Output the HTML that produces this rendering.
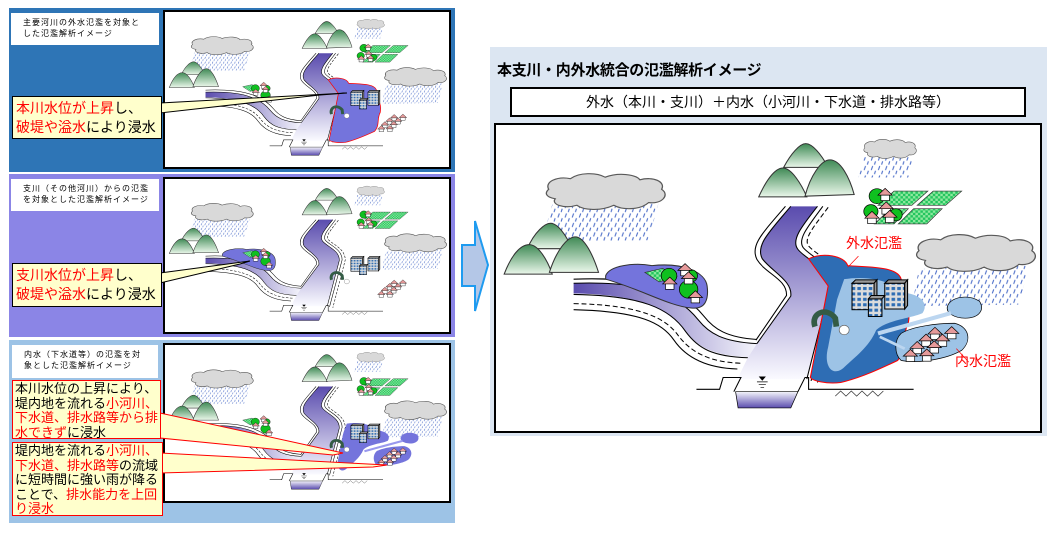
<!DOCTYPE html>
<html><head><meta charset="utf-8">
<style>
body{margin:0;width:1054px;height:533px;background:#fff;position:relative;overflow:hidden;font-family:"Liberation Sans","Noto Sans CJK JP",sans-serif;}
.abs{position:absolute;box-sizing:border-box;}
.ttl{background:#fff;font-size:8px;line-height:11px;padding:4px 0 0 12px;letter-spacing:1px;color:#000;}
.ill{position:absolute;box-sizing:border-box;border:2px solid #000;background:#fff;}
.ill svg{position:absolute;left:0;top:0;width:100%;height:100%;}
.co{background:#ffffcc;font-size:14px;line-height:19px;padding:2px 0 0 3px;color:#000;white-space:nowrap;}
.r{color:#f00;}
.co3{background:#ffffcc;border:1.5px solid #f00;font-size:13px;line-height:14.5px;padding:1px 0 0 2px;white-space:nowrap;}
</style></head><body>

<svg width="0" height="0" style="position:absolute">
<defs>
 <linearGradient id="mt" x1="0" y1="0" x2="0" y2="1"><stop offset="0" stop-color="#3f8a55"/><stop offset="1" stop-color="#eaf7ea"/></linearGradient>
 <linearGradient id="rv" x1="0" y1="0" x2="0" y2="1"><stop offset="0" stop-color="#5a4cae"/><stop offset="1" stop-color="#fafaff"/></linearGradient>
 <linearGradient id="tr" x1="0" y1="0" x2="1" y2="0"><stop offset="0" stop-color="#5a4cae"/><stop offset="1" stop-color="#f4f4fb"/></linearGradient>
 <linearGradient id="ch" x1="0" y1="0" x2="0" y2="1"><stop offset="0" stop-color="#f4f4fb"/><stop offset="1" stop-color="#5a4cae"/></linearGradient>
 <pattern id="rain" width="20" height="28" patternUnits="userSpaceOnUse"><line x1="10" y1="2" x2="6" y2="14" stroke="#4a6cc8" stroke-width="3"/><line x1="18" y1="16" x2="15" y2="26" stroke="#4a6cc8" stroke-width="3"/></pattern>
 <pattern id="chk" width="14" height="14" patternUnits="userSpaceOnUse"><rect width="14" height="14" fill="#22c55e"/><rect width="7" height="7" fill="#8ee89e"/><rect x="7" y="7" width="7" height="7" fill="#8ee89e"/></pattern>
 <pattern id="win" width="16" height="16" patternUnits="userSpaceOnUse"><rect width="16" height="16" fill="#ddd"/><rect x="3" y="3" width="10" height="9" fill="#2e6db4"/></pattern>
 <g id="house"><rect x="-12" y="0" width="24" height="18" fill="#fff" stroke="#000" stroke-width="2"/><polygon points="-20,2 0,-18 20,2" fill="#e69a9a" stroke="#000" stroke-width="2"/></g>
 <g id="cloud"><path d="M0,40 C-10,20 20,5 50,12 C70,-5 110,-5 130,8 C160,-5 200,0 210,15 C240,5 270,20 260,40 C280,55 260,80 230,75 C210,95 170,95 150,82 C120,98 80,95 65,82 C35,92 5,80 15,65 C-10,60 -8,48 0,40 Z" fill="#d9d9d9" stroke="#595959" stroke-width="3"/></g>
 <g id="base">
  <!-- rain -->
  <polygon points="170,480 470,470 440,585 140,590" fill="url(#rain)"/>
  <polygon points="1045,340 1185,340 1170,400 1030,400" fill="url(#rain)"/>
  <polygon points="1200,670 1510,660 1480,775 1180,780" fill="url(#rain)"/>
  <use href="#cloud" transform="translate(160,390) scale(1.22,1.12)"/>
  <use href="#cloud" transform="translate(1048,288) scale(0.54,0.6)"/>
  <use href="#cloud" transform="translate(1200,570) scale(1.22,1.15)"/>
  <!-- mountains -->
  <g fill="url(#mt)" stroke="#333" stroke-width="3">
   <path d="M100,610 C120,560 150,535 165,535 C185,535 210,570 225,610 Z"/>
   <path d="M35,685 C55,630 80,598 105,598 C130,598 155,640 170,685 Z"/>
   <path d="M162,680 C180,620 210,575 235,575 C260,575 285,630 300,680 Z"/>
   <path d="M820,370 C840,330 865,300 882,300 C900,300 925,330 945,370 Z"/>
   <path d="M750,457 C770,410 795,372 818,372 C842,372 870,420 885,457 Z"/>
   <path d="M880,455 C895,395 925,348 950,348 C980,348 1005,400 1018,450 Z"/>
  </g>
  <!-- fields -->
  <g fill="url(#chk)" stroke="#333" stroke-width="2">
   <polygon points="1130,440 1225,440 1180,482 1085,482"/>
   <polygon points="1240,440 1320,440 1275,482 1195,482"/>
   <polygon points="1120,492 1170,492 1130,537 1075,537"/>
   <polygon points="1185,492 1265,492 1222,537 1142,537"/>
  </g>
  <g fill="#0fc01f" stroke="#000" stroke-width="2"><circle cx="1082" cy="455" r="22"/><circle cx="1065" cy="500" r="20"/><circle cx="1135" cy="510" r="18"/></g>
  <use href="#house" x="1105" y="450"/><use href="#house" x="1108" y="490"/><use href="#house" x="1068" y="518"/><use href="#house" x="1118" y="515"/>
  <!-- tributary -->
  <path d="M230,712 C420,705 520,740 580,820 C610,860 650,885 745,890 L720,930 C620,925 580,900 550,860 C500,790 420,745 230,742 Z" fill="url(#tr)"/>
  <g fill="none" stroke="#000" stroke-width="3">
   <path d="M230,700 C420,692 530,725 595,808 C625,848 660,872 745,878"/>
   <path d="M230,712 C420,705 520,740 580,820 C610,860 650,885 745,890"/>
   <path d="M230,745 C420,748 500,785 545,855 C580,905 620,928 720,932"/>
   <path d="M230,772 C420,776 490,815 525,868 C560,915 610,945 700,948" stroke-dasharray="14,8"/>
   <path d="M230,790 C420,795 480,830 512,880 C545,930 600,962 690,965"/>
  </g>
  <!-- main river -->
  <path d="M840,485 L915,485 C870,545 840,585 860,612 C885,645 950,665 950,725 L885,995 L690,995 L720,930 L745,890 L840,750 C845,705 790,680 760,640 C740,600 780,560 840,485 Z" fill="url(#rv)"/>
  <g fill="none" stroke="#000" stroke-width="3">
   <path d="M825,485 C760,565 725,600 745,642 C770,685 830,700 828,748 L742,880"/>
   <path d="M840,485 C780,560 740,600 760,640 C790,680 845,705 840,750 L745,890"/>
   <path d="M915,485 C870,545 840,585 860,612 C885,645 950,665 950,725 L885,995"/>
   <path d="M930,485 C888,545 858,582 875,607 C900,638 965,660 965,722 L897,1000"/>
   <path d="M945,488 C905,545 875,580 890,602 C915,632 980,655 982,722 L915,1005" stroke-dasharray="14,8"/>
   <path d="M575,1025 L640,1025 L650,990 L700,990 L680,1032"/>
   <path d="M860,1032 L880,990 L890,990 L890,1025 L1185,1025"/>
  </g>
  <path d="M685,1032 L860,1032 L840,1080 L692,1080 Z" fill="url(#ch)" stroke="#000" stroke-width="2"/>
  <path d="M752,988 L768,988 L760,998 Z M745,1003 L775,1003 M750,1011 L770,1011 M755,1019 L765,1019" fill="#000" stroke="#000" stroke-width="2"/>
  <path d="M965,1045 l15,-15 l15,15 l15,-15 l15,15 l15,-15 l15,15 l15,-15 l15,15 l15,-15" fill="none" stroke="#333" stroke-width="2"/>
 </g>
 <g id="top">
  <!-- left houses -->
  <polygon points="430,680 480,668 520,692 470,708" fill="url(#chk)" stroke="#333" stroke-width="2"/>
  <g fill="#0fc01f" stroke="#000" stroke-width="2"><circle cx="498" cy="690" r="22"/><circle cx="560" cy="690" r="18"/><circle cx="553" cy="730" r="26"/></g>
  <use href="#house" x="543" y="672"/><use href="#house" x="553" y="696"/><use href="#house" x="500" y="712"/><use href="#house" x="572" y="752"/>
  <!-- buildings -->
  <g stroke="#000" stroke-width="3">
   <rect x="1012" y="712" width="62" height="78" fill="url(#win)"/><polygon points="1012,712 1022,702 1082,702 1074,712" fill="#999"/><polygon points="1074,712 1082,702 1082,780 1074,790" fill="#999"/>
   <rect x="1104" y="712" width="56" height="76" fill="url(#win)"/><polygon points="1104,712 1114,702 1168,702 1160,712" fill="#999"/><polygon points="1160,712 1168,702 1168,778 1160,788" fill="#999"/>
   <rect x="1058" y="758" width="38" height="52" fill="url(#win)"/><polygon points="1058,758 1066,748 1104,748 1096,758" fill="#999"/>
  </g>
  <!-- pump -->
  <path d="M908,840 C895,800 940,780 965,815 L968,840" fill="none" stroke="#335b45" stroke-width="16"/>
  <circle cx="990" cy="850" r="14" fill="#fff" stroke="#666" stroke-width="2"/>
 </g>
 <g id="rhouses">
  <use href="#house" x="1245" y="860"/><use href="#house" x="1292" y="858"/><use href="#house" x="1220" y="880"/><use href="#house" x="1266" y="880"/>
  <use href="#house" x="1195" y="902"/><use href="#house" x="1243" y="900"/><use href="#house" x="1176" y="925"/><use href="#house" x="1222" y="924"/>
 </g>
</defs>
</svg>

<!-- panel 1 -->
<div class="abs" style="left:9px;top:8px;width:446px;height:164px;background:#2e75b6"></div>
<div class="abs ttl" style="left:11px;top:13px;width:148px;height:32px">主要河川の外水氾濫を対象と<br>した氾濫解析イメージ</div>
<div class="ill" style="left:163px;top:10px;width:288px;height:159px">
<svg viewBox="12 245 1528 903" preserveAspectRatio="none">
 <use href="#base"/>
 <path d="M890,640 C930,620 990,630 1000,660 C1050,665 1140,660 1150,700 C1150,760 1180,770 1170,830 C1150,870 1170,900 1140,940 C1100,960 1040,990 980,1005 C940,1010 900,1000 895,990 L945,720 Z" fill="#7474dc" stroke="#f00" stroke-width="4"/>
 <use href="#top"/><use href="#rhouses"/>
</svg></div>
<svg class="abs" style="left:0;top:0" width="460" height="180"><polygon points="160,103 347,93 320,95 160,113" fill="#ffffcc" stroke="#000" stroke-width="1"/></svg>
<div class="abs co" style="left:12px;top:96px;width:150px;height:43px;border:1.5px solid #000"><span class="r">本川水位が上昇</span>し、<br><span class="r">破堤や溢水</span>により浸水</div>

<!-- panel 2 -->
<div class="abs" style="left:9px;top:174px;width:446px;height:163px;background:#8b85e6"></div>
<div class="abs ttl" style="left:11px;top:179px;width:148px;height:32px">支川（その他河川）からの氾濫<br>を対象とした氾濫解析イメージ</div>
<div class="ill" style="left:163px;top:177px;width:288px;height:157px">
<svg viewBox="12 245 1528 903" preserveAspectRatio="none">
 <use href="#base"/>
 <path d="M320,690 C330,660 400,650 450,660 C540,650 600,680 605,720 C610,760 600,790 560,785 C500,780 420,730 320,700 Z" fill="#7474dc" stroke="#333" stroke-width="3"/>
 <use href="#top"/><use href="#rhouses"/>
</svg></div>
<svg class="abs" style="left:0;top:170px" width="460" height="180"><polygon points="160,103 250,91 240,94 160,113" fill="#ffffcc" stroke="#000" stroke-width="1"/></svg>
<div class="abs co" style="left:12px;top:263px;width:150px;height:44px;border:1.5px solid #000"><span class="r">支川水位が上昇</span>し、<br><span class="r">破堤や溢水</span>により浸水</div>

<!-- panel 3 -->
<div class="abs" style="left:9px;top:340px;width:446px;height:183px;background:#9dc3e6"></div>
<div class="abs ttl" style="left:12px;top:345px;width:146px;height:33px">内水（下水道等）の氾濫を対<br>象とした氾濫解析イメージ</div>
<div class="ill" style="left:163px;top:343px;width:288px;height:160px">
<svg viewBox="12 245 1528 903" preserveAspectRatio="none">
 <use href="#base"/>
 <path d="M990,700 C1050,690 1120,700 1150,740 C1200,740 1230,770 1210,800 C1180,815 1110,820 1080,850 C1060,900 1020,930 990,960 C960,990 930,960 945,900 L970,760 Z" fill="#7474dc"/>
 <path d="M1150,860 C1180,840 1250,830 1300,830 C1340,840 1350,880 1320,910 C1280,935 1200,950 1150,940 C1130,920 1130,880 1150,860 Z" fill="#7474dc"/>
 <path d="M1280,780 C1290,750 1340,745 1370,765 C1385,790 1370,815 1330,815 C1300,815 1275,800 1280,780 Z" fill="#7474dc"/>
 <path d="M1085,860 L1290,800" stroke="#9999ee" stroke-width="12"/>
 <use href="#top"/><use href="#rhouses"/>
</svg></div>
<svg class="abs" style="left:0;top:0" width="460" height="533">
 <polygon points="160,413 343,453 333,455 160,438" fill="#ffffcc" stroke="#f00" stroke-width="1"/>
 <polygon points="160,453 387,465 373,467 160,473" fill="#ffffcc" stroke="#f00" stroke-width="1"/>
</svg>
<div class="abs co3" style="left:12px;top:380px;width:149px;height:59px">本川水位の上昇により、<br>堤内地を流れる<span class="r">小河川、</span><br><span class="r">下水道、排水路等から排</span><br><span class="r">水できず</span>に浸水</div>
<div class="abs co3" style="left:12px;top:442px;width:151px;height:74px">堤内地を流れる<span class="r">小河川、</span><br><span class="r">下水道、排水路等</span>の流域<br>に短時間に強い雨が降る<br>ことで、<span class="r">排水能力を上回</span><br><span class="r">り浸水</span></div>

<!-- arrow -->
<svg class="abs" style="left:455px;top:215px" width="40" height="100"><polygon points="7,30 20,30 20,6 33,50 20,96 20,71 7,71" fill="#b4c7e7" stroke="#1e9bf0" stroke-width="2"/></svg>

<!-- right panel -->
<div class="abs" style="left:490px;top:47px;width:557px;height:389px;background:#dce6f2"></div>
<div class="abs" style="left:497px;top:59px;font-size:15px;font-weight:bold;letter-spacing:-0.3px;white-space:nowrap">本支川・内外水統合の氾濫解析イメージ</div>
<div class="abs" style="left:510px;top:87px;width:516px;height:30px;background:#fff;border:2px solid #000;font-size:14px;line-height:26px;text-align:center;white-space:nowrap">外水（本川・支川）＋内水（小河川・下水道・排水路等）</div>
<div class="ill" style="left:494px;top:123px;width:548px;height:310px">
<svg viewBox="12 245 1528 903" preserveAspectRatio="none">
 <use href="#base"/>
 <path d="M320,690 C330,660 400,650 450,660 C540,650 600,680 605,720 C610,760 600,790 560,785 C500,780 420,730 320,700 Z" fill="#7474dc" stroke="#333" stroke-width="3"/>
 <path d="M890,640 C930,620 990,630 1000,660 C1050,665 1140,660 1150,700 C1150,760 1180,770 1170,830 C1150,870 1170,900 1140,940 C1100,960 1040,990 980,1005 C940,1010 900,1000 895,990 L945,720 Z" fill="#2e6db4" stroke="#f00" stroke-width="3"/>
 <path d="M990,700 C1050,690 1120,700 1150,740 C1200,740 1230,770 1210,800 C1180,815 1110,820 1080,850 C1060,900 1020,930 990,960 C960,990 930,960 945,900 L970,760 Z" fill="#9dc3e6"/>
 <path d="M1150,860 C1180,840 1250,830 1300,830 C1340,840 1350,880 1320,910 C1280,935 1200,950 1150,940 C1130,920 1130,880 1150,860 Z" fill="#9dc3e6" stroke="#000" stroke-width="2"/>
 <path d="M1280,780 C1290,750 1340,745 1370,765 C1385,790 1370,815 1330,815 C1300,815 1275,800 1280,780 Z" fill="#9dc3e6" stroke="#000" stroke-width="2"/>
 <path d="M1085,860 L1290,800" stroke="#bcd6f0" stroke-width="12"/>
 <path d="M1090,870 L1160,905" stroke="#bcd6f0" stroke-width="8"/>
 <use href="#top"/><use href="#rhouses"/>
 <path d="M1000,665 L1030,632 M1305,905 L1340,945" stroke="#f00" stroke-width="2"/>
</svg></div>
<div class="abs" style="left:846px;top:233px;color:#f00;font-size:14px;white-space:nowrap">外水氾濫</div>
<div class="abs" style="left:955px;top:351px;color:#f00;font-size:14px;white-space:nowrap">内水氾濫</div>
</body></html>
